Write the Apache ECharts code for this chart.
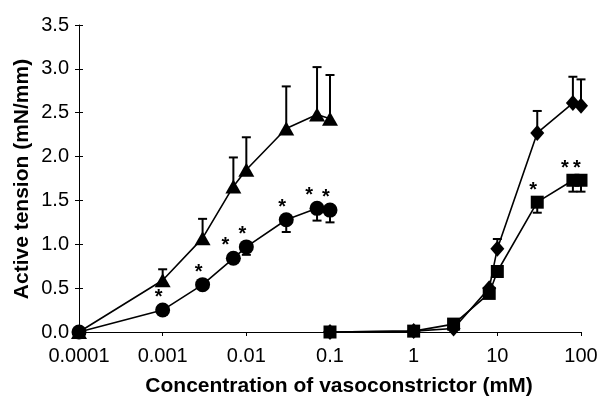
<!DOCTYPE html>
<html><head><meta charset="utf-8">
<script src="https://cdn.jsdelivr.net/npm/echarts@6/dist/echarts.min.js"></script>
<style>html,body{margin:0;padding:0;background:#fff}#c{width:608px;height:399px}</style>
</head><body><div id="c"></div>
<script>
const xTickLabels = ['0.0001', '0.001', '0.01', '0.1', '1', '10', '100'];
const yTickLabels = ['0.0', '0.5', '1.0', '1.5', '2.0', '2.5', '3.0', '3.5'];

const concLeft = [0.0001, 0.001, 0.003, 0.007, 0.01, 0.03, 0.07, 0.1];
const triangleY = [0, 0.59, 1.07, 1.66, 1.85, 2.32, 2.48, 2.43];
const triangleErrTop = [null, 0.715, 1.29, 1.99, 2.22, 2.80, 3.02, 2.93];
const circleY = [0, 0.25, 0.54, 0.84, 0.97, 1.28, 1.41, 1.39];
const circleErrBottom = [null, null, null, 0.80, 0.88, 1.14, 1.27, 1.25];
const circleStar = [0, 1, 1, 1, 1, 1, 1, 1];

const concRight = [0.1, 1, 3, 8, 10, 30, 80, 100];
const diamondY = [0, 0.01, 0.04, 0.50, 0.95, 2.27, 2.61, 2.58];
const diamondErrTop = [null, null, null, null, 1.06, 2.52, 2.91, 2.88];
const squareY = [0, 0.01, 0.09, 0.44, 0.69, 1.48, 1.73, 1.73];
const squareErrBottom = [null, null, null, null, null, 1.36, 1.60, 1.60];
const squareStar = [0, 0, 0, 0, 0, 1, 1, 1];

const FONT = "'Liberation Sans', Arial, sans-serif";

function pts(xs, ys, stars) {
  return xs.map((x, i) => {
    const d = { value: [x, ys[i]] };
    if (stars) {
      d.label = { show: !!stars[i] };
      // crowded neighbour to the right: push star further left
      if (stars[i] && stars[i + 1] && xs[i + 1] / xs[i] < 1.5) d.label.offset = [-8, 5];
    }
    return d;
  });
}
function errPts(xs, ys, es) {
  const out = [];
  xs.forEach((x, i) => { if (es[i] != null) out.push([x, ys[i], es[i]]); });
  return out;
}
function errRender(params, api) {
  const x = api.value(0), y = api.value(1), e = api.value(2);
  const p0 = api.coord([x, y]);
  const p1 = api.coord([x, e]);
  return {
    type: 'group', children: [
      { type: 'line', shape: { x1: p0[0], y1: p0[1], x2: p1[0], y2: p1[1] }, style: { stroke: '#000', lineWidth: 2 } },
      { type: 'line', shape: { x1: p1[0] - 4.5, y1: p1[1], x2: p1[0] + 4.5, y2: p1[1] }, style: { stroke: '#000', lineWidth: 2 } }
    ]
  };
}
const starLabel = { show: false, formatter: '*', position: 'top', distance: 0, offset: [-4, 5], color: '#000', fontSize: 20, fontWeight: 'bold', fontFamily: FONT };

function lineSeries(xs, ys, symbol, size, stars) {
  return {
    type: 'line', xAxisIndex: 0, yAxisIndex: 0, data: pts(xs, ys, stars),
    symbol: symbol, symbolSize: size, showSymbol: true, clip: false,
    lineStyle: { color: '#000', width: 1.6 }, itemStyle: { color: '#000' },
    label: starLabel, z: 3, animation: false
  };
}
function errSeries(xs, ys, es) {
  return {
    type: 'custom', xAxisIndex: 0, yAxisIndex: 0, data: errPts(xs, ys, es),
    encode: { x: 0, y: [1, 2] }, renderItem: errRender, z: 2, animation: false, clip: false
  };
}

const chart = echarts.init(document.getElementById('c'), null, { renderer: 'canvas' });
const xBase = { type: 'log', logBase: 10, min: 0.0001, max: 100, splitLine: { show: false } };
const yBase = { type: 'value', min: 0, max: 3.5, interval: 0.5, splitLine: { show: false } };
chart.setOption({
  backgroundColor: '#fff',
  animation: false,
  grid: { left: 79, right: 27, top: 25, bottom: 67 },
  xAxis: [
    Object.assign({}, xBase, {
      axisLine: { lineStyle: { color: '#000', width: 1 } },
      axisTick: { show: true, length: 4, lineStyle: { color: '#000' } },
      axisLabel: { color: '#000', fontSize: 20, fontFamily: FONT, margin: 14,
        formatter: v => xTickLabels[Math.round(Math.log10(v)) + 4] }
    }),
    Object.assign({}, xBase, {
      axisLine: { show: false }, axisLabel: { show: false },
      axisTick: { show: true, inside: true, length: 4, lineStyle: { color: '#000' } }
    })
  ],
  yAxis: [
    Object.assign({}, yBase, {
      axisLine: { show: true, lineStyle: { color: '#000', width: 1 } },
      axisTick: { show: true, length: 4, lineStyle: { color: '#000' } },
      axisLabel: { color: '#000', fontSize: 20, fontFamily: FONT, margin: 10,
        formatter: v => yTickLabels[Math.round(v / 0.5)] }
    }),
    Object.assign({}, yBase, {
      position: 'left',
      axisLine: { show: false }, axisLabel: { show: false },
      axisTick: { show: true, inside: true, length: 4, lineStyle: { color: '#000' } }
    })
  ],
  graphic: [
    { type: 'text', x: 339, y: 386, style: { text: 'Concentration of vasoconstrictor (mM)', font: "bold 21px " + FONT, fill: '#000', textAlign: 'center', textVerticalAlign: 'middle' } },
    { type: 'text', x: 22, y: 179, rotation: Math.PI / 2, style: { text: 'Active tension (mN/mm)', font: "bold 21px " + FONT, fill: '#000', textAlign: 'center', textVerticalAlign: 'middle' } }
  ],
  series: [
    errSeries(concLeft, triangleY, triangleErrTop),
    errSeries(concLeft, circleY, circleErrBottom),
    errSeries(concRight, diamondY, diamondErrTop),
    errSeries(concRight, squareY, squareErrBottom),
    lineSeries(concLeft, triangleY, 'triangle', [16, 14], null),
    lineSeries(concLeft, circleY, 'circle', 15, circleStar),
    lineSeries(concRight, diamondY, 'diamond', [14, 16], null),
    lineSeries(concRight, squareY, 'rect', 13, squareStar)
  ]
});
</script>
</body></html>
